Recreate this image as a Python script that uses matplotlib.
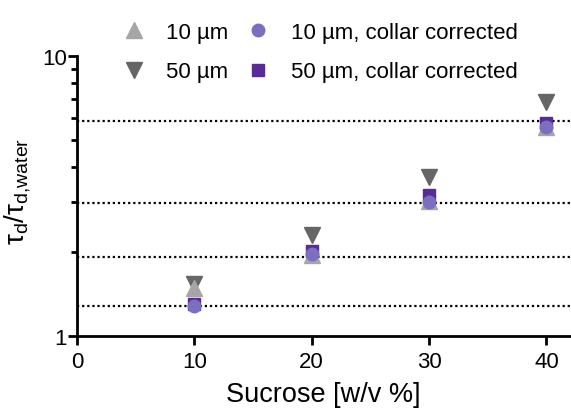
import matplotlib
matplotlib.use("Agg")
import matplotlib.pyplot as plt
from matplotlib.ticker import FixedLocator, NullFormatter

plt.rcParams['font.family'] = ['Liberation Sans', 'DejaVu Sans']

sucrose = [10, 20, 30, 40]
tau_10um = [1.48, 1.95, 3.04, 5.60]
tau_50um = [1.54, 2.29, 3.71, 6.85]
tau_10um_cc = [1.28, 1.96, 3.01, 5.57]
tau_50um_cc = [1.30, 2.01, 3.19, 5.77]
ref_levels = [1.28, 1.91, 2.98, 5.86]
x_ticks = [0, 10, 20, 30, 40]

fig = plt.figure(figsize=(5.71, 4.10), dpi=100)
ax = fig.add_axes([0.135, 0.178, 0.863, 0.683])

for lvl in ref_levels:
    ax.axhline(lvl, color='black', linestyle=(0, (1, 1.3)), linewidth=1.6, zorder=1)

h_down, = ax.plot(sucrose, tau_50um, linestyle='none', marker='v', markersize=11,
                  color='#666666', zorder=2, label='50 µm')
h_up, = ax.plot(sucrose, tau_10um, linestyle='none', marker='^', markersize=11,
                color='#a6a6a6', zorder=3, label='10 µm')
h_sq, = ax.plot(sucrose, tau_50um_cc, linestyle='none', marker='s', markersize=9,
                color='#582c94', zorder=4, label='50 µm, collar corrected')
h_ci, = ax.plot(sucrose, tau_10um_cc, linestyle='none', marker='o', markersize=9,
                color='#7b70c0', zorder=5, label='10 µm, collar corrected')

ax.set_yscale('log')
ax.set_ylim(1, 10)
ax.set_xlim(0, 42)
ax.set_xticks(x_ticks)
ax.yaxis.set_major_locator(FixedLocator([1, 10]))
ax.yaxis.set_minor_locator(FixedLocator([2, 3, 4, 5, 6, 7, 8, 9]))
ax.yaxis.set_minor_formatter(NullFormatter())
ax.set_yticklabels(['1', '10'])

for side in ['top', 'right']:
    ax.spines[side].set_visible(False)
for side in ['left', 'bottom']:
    ax.spines[side].set_linewidth(2)
ax.tick_params(axis='both', which='major', direction='out', width=2, length=6.5,
               labelsize=16, colors='black')
ax.tick_params(axis='x', which='major', pad=4)
ax.tick_params(axis='y', which='major', pad=1)
ax.tick_params(axis='y', which='minor', direction='out', width=2, length=4.5)

ax.set_xlabel('Sucrose [w/v %]', fontsize=19.5, labelpad=7)
ax.set_ylabel(r'$\mathregular{\tau_d/\tau_{d{,}water}}$', fontsize=20)
ax.yaxis.set_label_coords(-0.09, 0.52)

fig.legend(handles=[h_up, h_down, h_ci, h_sq], ncol=2, frameon=False,
           loc='upper left', bbox_to_anchor=(0.186, 0.972), fontsize=16,
           borderpad=0, labelspacing=0.85, columnspacing=0.6,
           handletextpad=0.7, handlelength=1.5)

fig.savefig('out.png', dpi=100)
